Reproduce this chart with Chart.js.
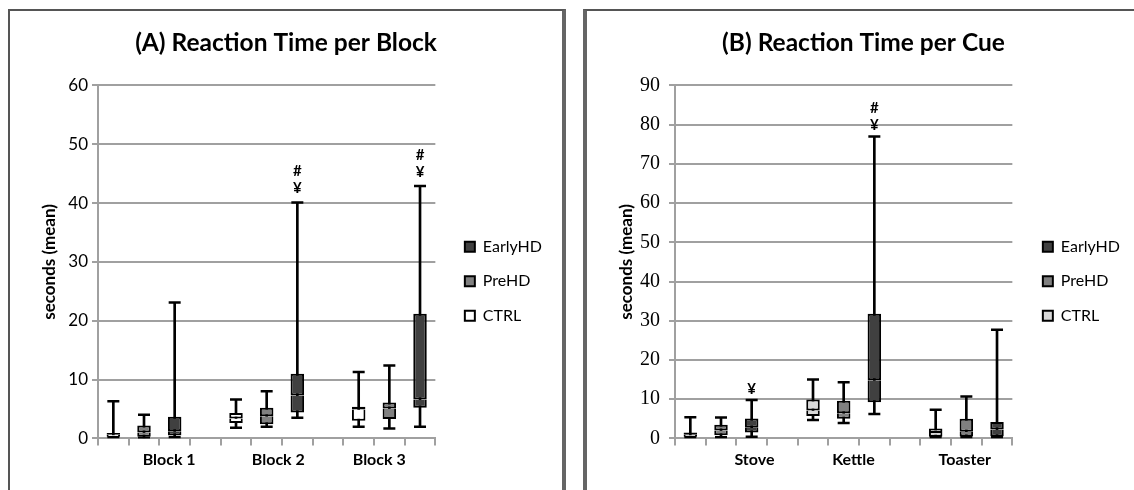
<!DOCTYPE html>
<html>
<head>
<meta charset="utf-8">
<script src="https://cdn.jsdelivr.net/npm/chart.js@4.4.1/dist/chart.umd.min.js"></script>
<style>
  html, body { margin: 0; padding: 0; background: #fff; }
  body { width: 1134px; height: 490px; position: relative; overflow: hidden; }
  .panel { position: absolute; top: 9px; height: 500px; border-top: 2px solid #555; }
  #panelA { left: 8px; width: 552px; border-left: 2px solid #555; border-right: 4px solid #656565; }
  #panelB { left: 583px; width: 547px; border-left: 4px solid #656565; }
  canvas { display: block; }
</style>
</head>
<body>
<div class="panel" id="panelA"><canvas id="chartA" width="552" height="479"></canvas></div>
<div class="panel" id="panelB"><canvas id="chartB" width="547" height="479"></canvas></div>
<script>
// each row: [min, q1, median, q3, max] in seconds
const groupNames = ['CTRL', 'PreHD', 'EarlyHD'];

const blockLabels = ['Block 1', 'Block 2', 'Block 3'];
const blockCTRL = [[0.2, 0.3, 0.6, 0.9, 6.3], [1.8, 2.6, 3.4, 4.3, 6.6], [2.0, 3.0, 4.9, 5.4, 11.3]];
const blockPreHD = [[0.1, 0.3, 1.0, 2.2, 4.0], [2.0, 2.4, 3.75, 5.2, 8.0], [1.7, 3.3, 5.1, 6.1, 12.4]];
const blockEarlyHD = [[0.2, 0.5, 1.2, 3.7, 23.1], [3.5, 4.4, 7.3, 11.0, 40.1], [2.0, 5.2, 6.6, 21.2, 42.9]];
const blockSig = ['', '#\n¥', '#\n¥'];

const cueLabels = ['Stove', 'Kettle', 'Toaster'];
const cueCTRL = [[0.3, 0.4, 0.9, 1.5, 5.4], [4.7, 5.7, 7.1, 9.9, 15.0], [0.3, 0.45, 1.4, 2.5, 7.3]];
const cuePreHD = [[0.3, 0.8, 2.0, 3.5, 5.3], [3.9, 5.0, 6.4, 9.6, 14.3], [0.3, 0.5, 1.7, 5.0, 10.7]];
const cueEarlyHD = [[0.4, 1.5, 2.7, 5.1, 9.8], [6.2, 9.2, 14.8, 31.8, 77.0], [0.3, 0.5, 2.3, 4.2, 27.7]];
const cueSig = ['¥', '#\n¥', ''];

// excel-style layout: 3 boxes per category, one empty slot in between -> 11 slots
const slotIds = Array.from({length: 11}, (_, i) => String(i));
const slotOf = (k, g) => k * 4 + g;

function groupSlots(rows, g, pick) {
  const out = Array(11).fill(null);
  rows.forEach((s, k) => { out[slotOf(k, g)] = pick(s); });
  return out;
}
function allSlots(groups, pick) {
  const out = Array(11).fill(null);
  groups.forEach((rows, g) => rows.forEach((s, k) => { out[slotOf(k, g)] = pick(s); }));
  return out;
}

const sigPlugin = {
  id: 'sig',
  afterDatasetsDraw(chart, args, opts) {
    const {ctx, scales: {x, y}} = chart;
    ctx.save();
    ctx.font = 'bold 15px Lato';
    ctx.fillStyle = '#000';
    ctx.textAlign = 'center';
    ctx.textBaseline = 'middle';
    opts.marks.forEach((m, k) => {
      if (!m) return;
      const px = x.getPixelForValue(slotOf(k, 2));
      const py = y.getPixelForValue(opts.tops[k]);
      m.split('\n').reverse().forEach((s, j) => ctx.fillText(s, px, py - opts.gap - j * 17));
    });
    ctx.restore();
  }
};

function makeChart(id, p) {
  const box = { type: 'bar', grouped: false, categoryPercentage: 1, barPercentage: 0.44, borderColor: '#000', borderWidth: 2 };
  const upper = p.groups.map((rows, g) => ({ ...box, label: groupNames[g], data: groupSlots(rows, g, s => [s[2], s[3]]),
    backgroundColor: p.colors[g], borderSkipped: false }));
  const lower = p.groups.map((rows, g) => ({ ...box, label: '', data: groupSlots(rows, g, s => [s[1], s[2]]),
    backgroundColor: p.colors[g], borderSkipped: 'top' }));
  const cap = { type: 'line', label: '', showLine: false, pointStyle: 'line', pointRadius: 6, pointHoverRadius: 6,
    pointBorderWidth: 2.5, pointBorderColor: '#000', pointBackgroundColor: '#000' };

  const datasets = [
    ...upper.reverse(),
    ...lower,
    { type: 'bar', label: '', grouped: false, barThickness: 2, backgroundColor: '#000', borderWidth: 0,
      data: allSlots(p.groups, s => [s[0], s[4]]) },
    { ...cap, data: allSlots(p.groups, s => s[4]) },
    { ...cap, data: allSlots(p.groups, s => s[0]) }
  ];

  const gray = '#a0a0a0';
  return new Chart(document.getElementById(id), {
    type: 'bar',
    data: { labels: slotIds, datasets },
    plugins: [sigPlugin],
    options: {
      responsive: false,
      animation: false,
      events: [],
      layout: { padding: p.pad },
      scales: {
        x: { type: 'category', offset: true, weight: 0,
          grid: { offset: true, drawOnChartArea: false, tickLength: 7, color: gray, lineWidth: 2 },
          border: { color: gray, width: 2 },
          ticks: { display: false } },
        // label axis in the same units as the slots (-0.5 .. 10.5)
        xl: { type: 'linear', position: 'bottom', weight: 1, min: -0.5, max: 10.5, offset: false,
          grid: { display: false, drawTicks: false, offset: false }, border: { display: false },
          afterBuildTicks: s => { s.ticks = p.labelPos.map(v => ({ value: v })); },
          ticks: { padding: 4.7, autoSkip: false, maxRotation: 0, color: '#000',
            font: { family: 'Lato', weight: 'bold', size: 16 },
            callback: (v, i) => p.cats[i] } },
        y: { min: 0, max: p.yMax,
          ticks: { stepSize: 10, padding: p.tickPad, color: '#000', font: p.tickFont },
          grid: { color: gray, lineWidth: 2, tickLength: 6 },
          border: { color: gray, width: 2 },
          title: { display: true, text: 'seconds (mean)', color: '#000',
            font: { family: 'Lato', weight: 'bold', size: 17 }, padding: { top: 19, bottom: 0 } },
          afterFit: s => { s.width = 78; } },
        gap: { type: 'linear', position: 'right', display: true,
          grid: { display: false, drawTicks: false }, border: { display: false }, ticks: { display: false },
          afterFit: s => { s.width = p.gapWidth; } }
      },
      plugins: {
        title: { display: true, text: p.title, color: '#000',
          font: { family: 'Lato', weight: 'bold', size: 24.5 }, padding: { top: 17, bottom: 28 } },
        legend: { position: 'right', fullSize: false, maxWidth: 200,
          title: { display: true, text: ' ', font: { size: 10 }, padding: { top: 26.6, bottom: 0 } },
          labels: { filter: it => groupNames.includes(it.text), color: '#000',
            font: { family: 'Lato', size: 16 }, boxWidth: 10, boxHeight: 10, padding: 18.5 } },
        tooltip: { enabled: false },
        sig: { marks: p.sig, tops: p.groups[2].map(s => s[4]), gap: p.markGap }
      }
    }
  });
}

makeChart('chartA', {
  title: '(A) Reaction Time per Block',
  cats: blockLabels,
  groups: [blockCTRL, blockPreHD, blockEarlyHD],
  sig: blockSig,
  colors: ['#ffffff', '#808080', '#404040'],
  yMax: 60,
  labelPos: [1.82, 5.38, 8.67],
  tickFont: { family: 'Lato', size: 17 },
  tickPad: 4,
  gapWidth: 11,
  markGap: 14,
  pad: { left: 10, right: 10, top: 0, bottom: 16 }
});

makeChart('chartB', {
  title: '(B) Reaction Time per Cue',
  cats: cueLabels,
  groups: [cueCTRL, cuePreHD, cueEarlyHD],
  sig: cueSig,
  colors: ['#d9d9d9', '#808080', '#404040'],
  yMax: 90,
  labelPos: [2.09, 5.32, 8.95],
  tickFont: { family: 'Liberation Serif', size: 20 },
  tickPad: 9,
  gapWidth: 12,
  markGap: 11,
  pad: { left: 10, right: 4, top: 0, bottom: 16 }
});
</script>
</body>
</html>
